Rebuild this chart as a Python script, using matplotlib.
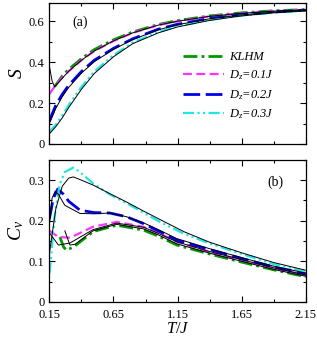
import matplotlib
matplotlib.use("Agg")
import matplotlib.pyplot as plt
from matplotlib.ticker import MultipleLocator, FixedLocator

plt.rcParams['font.family'] = ['Liberation Serif', 'DejaVu Serif']
plt.rcParams['mathtext.fontset'] = 'custom'
plt.rcParams['mathtext.rm'] = 'Liberation Serif'
plt.rcParams['mathtext.it'] = 'Liberation Serif:italic'

labels = ['KLHM', r'$D_z$=0.1$J$', r'$D_z$=0.2$J$', r'$D_z$=0.3$J$']

# ---- panel (a): entropy S ----
S_klhm_T = [0.19, 0.25, 0.3, 0.4, 0.5, 0.65, 0.8, 1.0, 1.15, 1.4, 1.65, 1.9, 2.15]
S_klhm = [0.28, 0.333, 0.365, 0.418, 0.462, 0.51, 0.548, 0.585, 0.604, 0.627, 0.642, 0.652, 0.658]
S_T = [0.15, 0.2, 0.25, 0.3, 0.4, 0.5, 0.65, 0.8, 1.0, 1.15, 1.4, 1.65, 1.9, 2.15]
S_d1 = [0.245, 0.29, 0.325, 0.356, 0.41, 0.455, 0.504, 0.544, 0.582, 0.601, 0.625, 0.64, 0.65, 0.657]
S_d2 = [0.115, 0.19, 0.243, 0.287, 0.355, 0.41, 0.468, 0.515, 0.562, 0.586, 0.614, 0.633, 0.646, 0.655]
S_d3 = [0.06, 0.095, 0.14, 0.19, 0.28, 0.355, 0.435, 0.497, 0.548, 0.576, 0.607, 0.629, 0.643, 0.653]

# thin black reference curves (panel a)
Sb_klhm_T = [0.15, 0.17, 0.19, 0.25, 0.3, 0.4, 0.5, 0.65, 0.8, 1.0, 1.15, 1.4, 1.65, 1.9, 2.15]
Sb_klhm = [0.38, 0.31, 0.28, 0.322, 0.356, 0.41, 0.455, 0.505, 0.544, 0.582, 0.601, 0.625, 0.64, 0.65, 0.657]
Sb_d2 = [0.10, 0.175, 0.231, 0.277, 0.347, 0.403, 0.463, 0.511, 0.559, 0.584, 0.613, 0.632, 0.645, 0.654]
Sb_d3 = [0.05, 0.085, 0.128, 0.178, 0.268, 0.345, 0.427, 0.491, 0.544, 0.573, 0.605, 0.627, 0.642, 0.652]

# ---- panel (b): specific heat Cv ----
C_klhm_T = [0.232, 0.26, 0.285, 0.35, 0.49, 0.675, 0.883, 1.0, 1.144, 1.4, 1.65, 1.9, 2.15]
C_klhm = [0.16, 0.135, 0.127, 0.138, 0.173, 0.189, 0.177, 0.162, 0.14, 0.118, 0.098, 0.079, 0.062]
C_d1_T = [0.15, 0.22, 0.31, 0.49, 0.675, 0.883, 1.0, 1.144, 1.4, 1.65, 1.9, 2.15]
C_d1 = [0.175, 0.16, 0.158, 0.185, 0.197, 0.185, 0.17, 0.148, 0.123, 0.103, 0.083, 0.066]
C_d2_T = [0.15, 0.18, 0.215, 0.26, 0.3, 0.388, 0.5, 0.62, 0.75, 0.883, 1.0, 1.144, 1.4, 1.65, 1.9, 2.15]
C_d2 = [0.205, 0.255, 0.278, 0.265, 0.248, 0.226, 0.22, 0.219, 0.21, 0.193, 0.175, 0.152, 0.129, 0.107, 0.086, 0.069]
C_d3_T = [0.15, 0.16, 0.19, 0.23, 0.27, 0.336, 0.38, 0.49, 0.62, 0.753, 0.883, 1.013, 1.2, 1.4, 1.65, 1.9, 2.15]
C_d3 = [0.07, 0.10, 0.21, 0.29, 0.32, 0.331, 0.322, 0.292, 0.265, 0.243, 0.22, 0.197, 0.168, 0.144, 0.118, 0.093, 0.074]

# thin black reference curves (panel b)
Cb_klhm_T = [0.27, 0.31, 0.35, 0.49, 0.675, 0.883, 1.0, 1.144, 1.4, 1.65, 1.9, 2.15]
Cb_klhm = [0.175, 0.14, 0.142, 0.175, 0.191, 0.18, 0.165, 0.143, 0.12, 0.1, 0.08, 0.063]
Cb_d1_T = [0.15, 0.22, 0.31, 0.49, 0.675, 0.883, 1.0, 1.144, 1.4, 1.65, 1.9, 2.15]
Cb_d1 = [0.17, 0.14, 0.145, 0.178, 0.194, 0.184, 0.169, 0.148, 0.124, 0.104, 0.084, 0.066]
Cb_d2_T = [0.15, 0.17, 0.195, 0.22, 0.27, 0.388, 0.5, 0.62, 0.75, 0.883, 1.0, 1.144, 1.4, 1.65, 1.9, 2.15]
Cb_d2 = [0.19, 0.255, 0.273, 0.265, 0.238, 0.218, 0.217, 0.219, 0.21, 0.195, 0.178, 0.156, 0.131, 0.109, 0.088, 0.071]
Cb_d3_T = [0.15, 0.2, 0.25, 0.3, 0.336, 0.4, 0.49, 0.62, 0.753, 0.883, 1.013, 1.2, 1.4, 1.65, 1.9, 2.15]
Cb_d3 = [0.12, 0.23, 0.285, 0.305, 0.308, 0.30, 0.288, 0.267, 0.246, 0.224, 0.203, 0.173, 0.147, 0.121, 0.097, 0.078]

colors = ['#009900', '#ff33ff', '#0000ee', '#22e5e5']
styles = [(0, (5, 1.5, 1, 1.5)), (0, (4, 2)), (0, (6, 2)), (0, (5, 1.5, 1, 1.5, 1, 1.5))]
widths = [2.0, 1.6, 2.0, 1.6]

fig = plt.figure(figsize=(3.17, 3.38), dpi=100)
ax1 = fig.add_axes([0.156, 0.574, 0.808, 0.417])
ax2 = fig.add_axes([0.156, 0.107, 0.808, 0.420])

blk = dict(color='black', lw=0.7)
# panel a
ax1.plot(S_klhm_T, S_klhm, color=colors[0], ls=styles[0], lw=widths[0], label=labels[0])
ax1.plot(S_T, S_d1, color=colors[1], ls=styles[1], lw=widths[1], label=labels[1])
ax1.plot(S_T, S_d2, color=colors[2], ls=styles[2], lw=widths[2], label=labels[2])
ax1.plot(S_T, S_d3, color=colors[3], ls=styles[3], lw=widths[3], label=labels[3])
ax1.plot(Sb_klhm_T, Sb_klhm, **blk)
ax1.plot(S_T, Sb_d2, **blk)
ax1.plot(S_T, Sb_d3, **blk)

# panel b
ax2.plot(C_klhm_T, C_klhm, color=colors[0], ls=styles[0], lw=widths[0])
ax2.plot(C_d1_T, C_d1, color=colors[1], ls=styles[1], lw=widths[1])
ax2.plot(C_d2_T, C_d2, color=colors[2], ls=styles[2], lw=widths[2])
ax2.plot(C_d3_T, C_d3, color=colors[3], ls=styles[3], lw=widths[3])
ax2.plot(Cb_klhm_T, Cb_klhm, **blk)
ax2.plot(Cb_d1_T, Cb_d1, **blk)
ax2.plot(Cb_d2_T, Cb_d2, **blk)
ax2.plot(Cb_d3_T, Cb_d3, **blk)

xt = [0.15, 0.65, 1.15, 1.65, 2.15]
for ax in (ax1, ax2):
    ax.set_xlim(0.15, 2.15)
    ax.xaxis.set_major_locator(FixedLocator(xt))
    ax.xaxis.set_minor_locator(FixedLocator([0.4, 0.9, 1.4, 1.9]))
    ax.tick_params(which='both', direction='in', top=True, right=True, labelsize=9)
    ax.tick_params(which='major', length=4, width=0.8)
    ax.tick_params(which='minor', length=2.5, width=0.8)
    for s in ax.spines.values():
        s.set_linewidth(0.9)

ax1.set_ylim(0, 0.69)
ax1.yaxis.set_major_locator(FixedLocator([0, 0.2, 0.4, 0.6]))
ax1.yaxis.set_minor_locator(MultipleLocator(0.1))
ax1.set_yticklabels(['0', '0.2', '0.4', '0.6'])
ax1.tick_params(labelbottom=False)
ax1.set_ylabel('$S$', fontsize=14, labelpad=2)
ax1.text(0.088, 0.865, '(a)', transform=ax1.transAxes, fontsize=10, va='center')

ax2.set_ylim(0, 0.35)
ax2.yaxis.set_major_locator(FixedLocator([0, 0.1, 0.2, 0.3]))
ax2.yaxis.set_minor_locator(MultipleLocator(0.05))
ax2.set_yticklabels(['0', '0.1', '0.2', '0.3'])
ax2.set_xticklabels(['0.15', '0.65', '1.15', '1.65', '2.15'])
ax2.tick_params(axis='x', pad=5)
ax2.set_ylabel('$C_v$', fontsize=14, labelpad=2)
ax2.set_xlabel('$T/J$', fontsize=12, labelpad=0)
ax2.text(0.85, 0.845, '(b)', transform=ax2.transAxes, fontsize=10, va='center')

leg = ax1.legend(loc='center right', bbox_to_anchor=(0.92, 0.41), frameon=False,
                 handlelength=3.3, handletextpad=0.4, labelspacing=0.45,
                 prop={'style': 'italic', 'size': 9})

fig.savefig('out.png', dpi=100)
